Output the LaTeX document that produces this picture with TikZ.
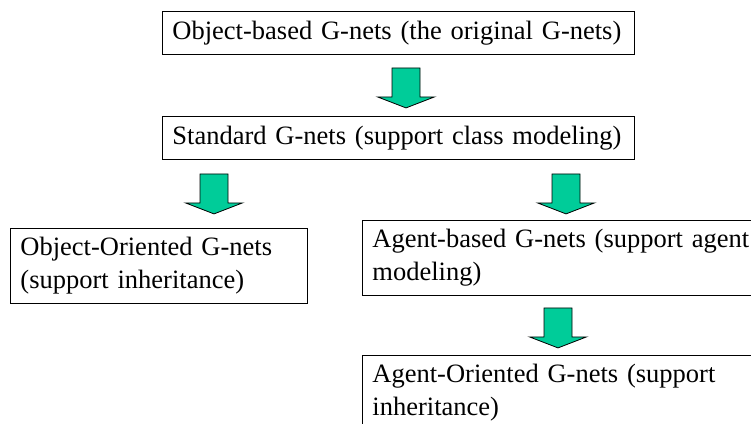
\documentclass[tikz,border=0pt]{standalone}
\usepackage{fontspec}
\setmainfont{Liberation Serif}
\usetikzlibrary{calc}
\definecolor{netgreen}{RGB}{0,204,153}

\begin{document}
\begin{tikzpicture}[x=1pt,y=-1pt]
  \tikzset{gbox/.style={draw,line width=.9pt,anchor=north west,align=left,inner xsep=10pt,
      font=\fontsize{26.5}{33}\selectfont,minimum height=43pt},
    gdown/.pic={\filldraw[fill=netgreen,line width=.8pt,line join=miter]
      (-14,0) -- (-14,29) -- (-28.5,29) -- (0,40) -- (28.5,29) -- (14,29) -- (14,0) -- cycle;}}
  \useasboundingbox (0,0) rectangle (751,423);
  \node[gbox,text width=452pt] (ob) at (162,11) {Object-based G-nets (the original G-nets)};
  \node[gbox,text width=452pt] (sg) at (162,116) {Standard G-nets (support class modeling)};
  \node[gbox,text width=277pt,minimum height=75pt] (oo) at (10,228) {Object-Oriented G-nets\\(support inheritance)};
  \node[gbox,text width=460pt,minimum height=75pt] (ab) at (362,220) {Agent-based G-nets (support agent\\modeling)};
  \node[gbox,text width=460pt,minimum height=75pt] (ao) at (362,355) {Agent-Oriented G-nets (support\\inheritance)};
  \pic at ($(ob.south west)+(244,13)$) {gdown};
  \pic at ($(sg.south west)+(52,14)$) {gdown};
  \pic at ($(sg.south west)+(404,14)$) {gdown};
  \pic at ($(ab.south west)+(196,12)$) {gdown};
\end{tikzpicture}
\end{document}
